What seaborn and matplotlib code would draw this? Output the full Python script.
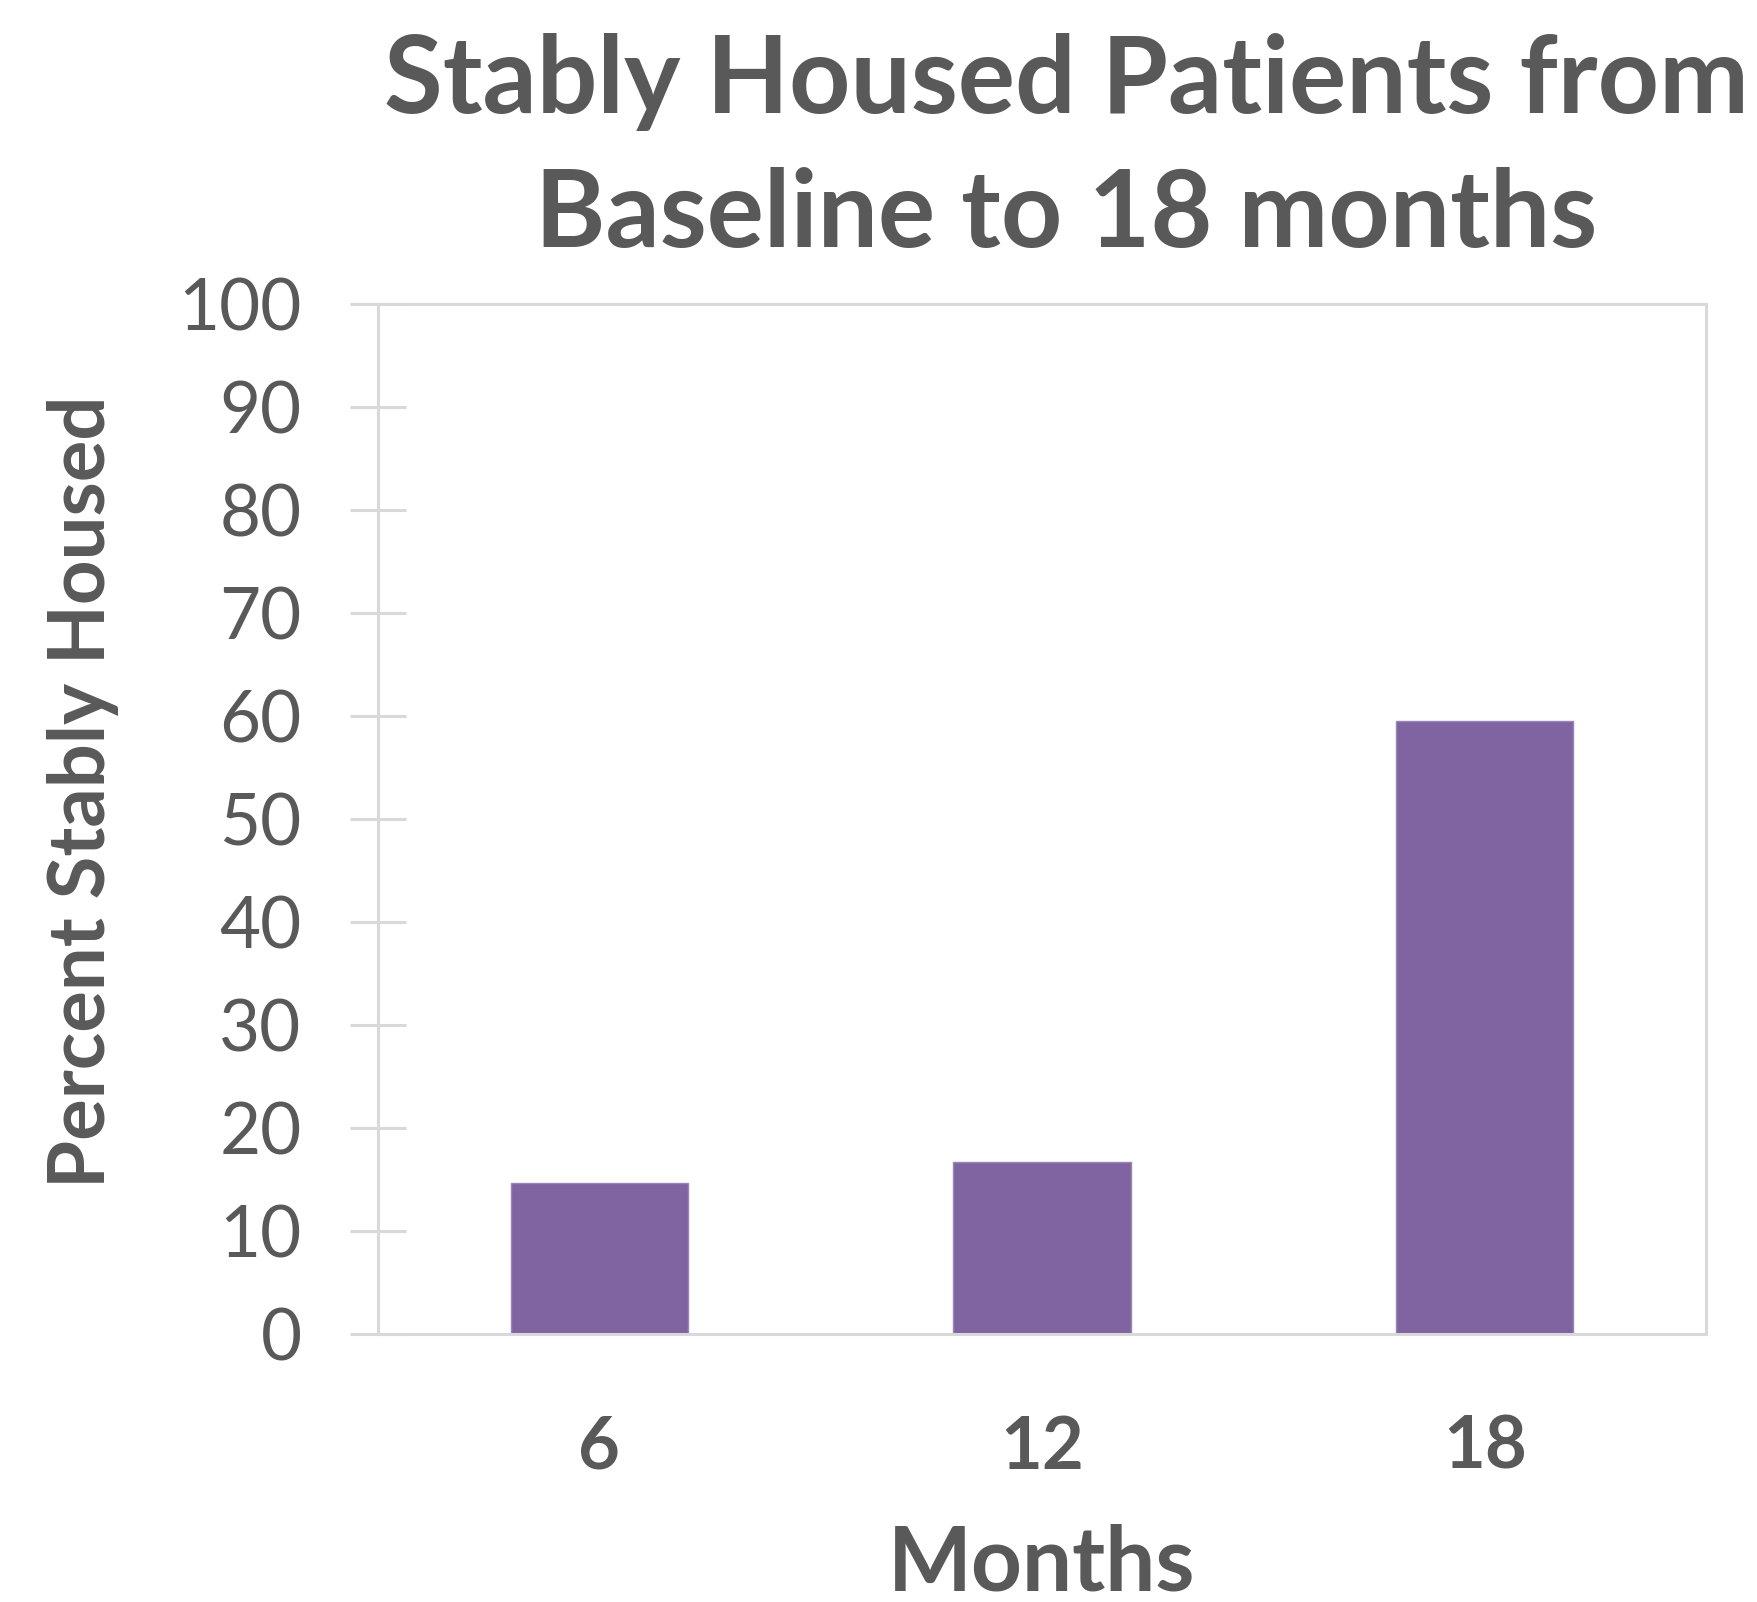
import numpy as np
import pandas as pd
from matplotlib import pyplot as plt
import seaborn as sns

months = ['6', '12', '18']
percent = [14.7, 16.7, 59.5]
yticks = [0, 10, 20, 30, 40, 50, 60, 70, 80, 90, 100]

df = pd.DataFrame({'months': months, 'percent': percent})

sns.set_style("white")
plt.rcParams['font.family'] = ['Lato', 'DejaVu Sans']

grey = '#595959'
line = '#d9d9d9'

fig = plt.figure(figsize=(17.57, 16.02), dpi=100)
ax = fig.add_axes([0.2151, 0.1673, 0.971 - 0.2151, 0.8102 - 0.1673])

sns.barplot(x='months', y='percent', data=df, order=months, color='#8064A2',
            width=0.4, saturation=1, ax=ax, edgecolor='#9a86b6', linewidth=1)

ax.set_ylim(0, 100)
ax.set_xlim(-0.5, 2.5)
ax.set_yticks(yticks)
ax.set_yticklabels([str(t) for t in yticks], fontsize=51, color=grey)
ax.set_xticklabels(months, fontsize=52, fontweight='bold', color=grey)
ax.tick_params(axis='y', left=True, direction='inout', length=40, width=2.2, color=line, pad=35)
ax.tick_params(axis='x', bottom=False, length=0, pad=58)

for s in ax.spines.values():
    s.set_color(line)
    s.set_linewidth(2.2)

ax.set_xlabel('Months', fontsize=64, fontweight='bold', color=grey, labelpad=30)
ax.set_ylabel('Percent Stably Housed', fontsize=56, fontweight='bold', color=grey)
ax.yaxis.set_label_coords(-0.195, 0.526)

fig.text(0.607, 0.907, 'Stably Housed Patients from\nBaseline to 18 months', ha='center', va='center',
         fontsize=77, fontweight='bold', color=grey, linespacing=1.45)

plt.savefig('out.png', dpi=100)
